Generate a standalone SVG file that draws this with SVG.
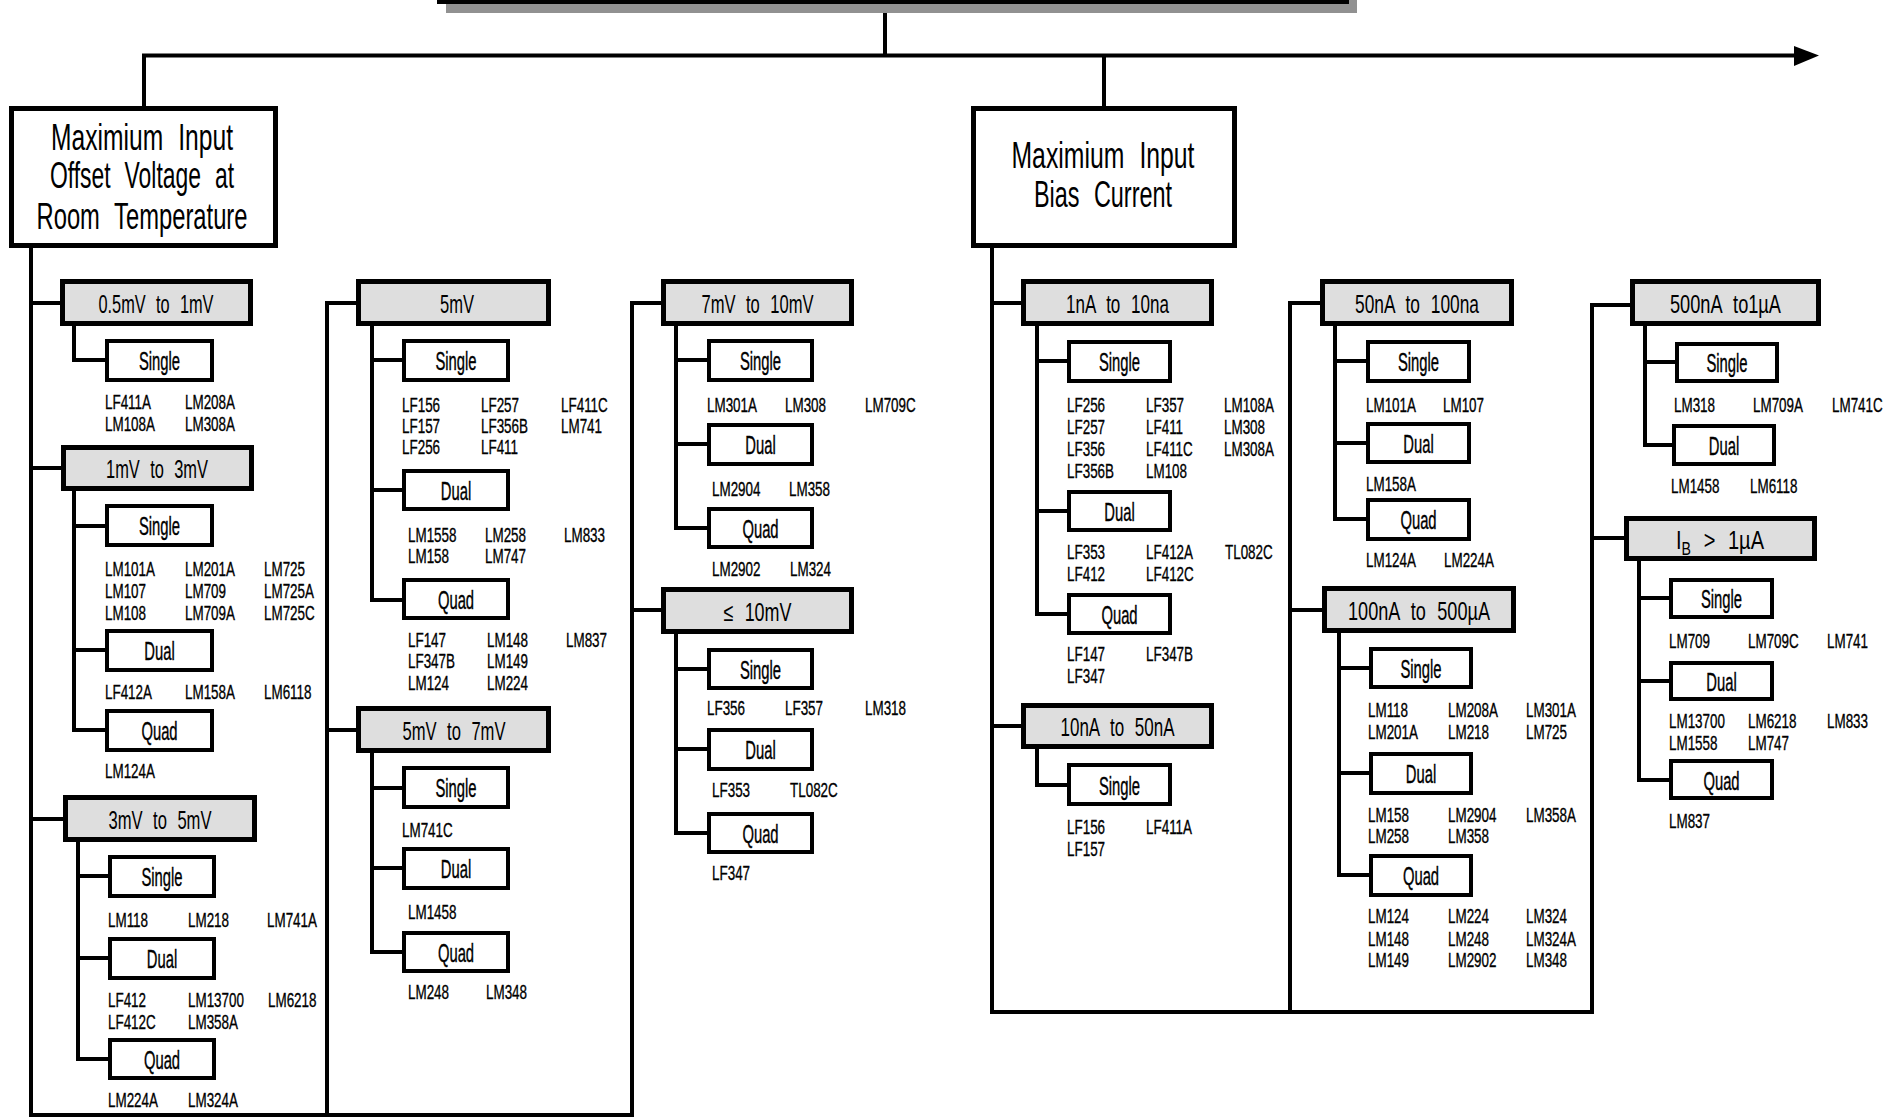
<svg xmlns="http://www.w3.org/2000/svg" width="1899" height="1118" viewBox="0 0 1899 1118">
<defs>
<style>
.ln{fill:none;stroke:#000;stroke-width:4;stroke-linecap:square;stroke-linejoin:miter}
.hb{fill:#dedede;stroke:#000;stroke-width:5}
.sb{fill:#fff;stroke:#000;stroke-width:4}
.tb{fill:#fff;stroke:#000;stroke-width:5}
text{font-family:"Liberation Sans",Arial,sans-serif;fill:#000}
.tt{font-size:36px;text-anchor:middle;word-spacing:12px}
.ht{font-size:25.5px;text-anchor:middle;word-spacing:9px}
.s{font-size:25.5px;text-anchor:middle;stroke:#000;stroke-width:0.4;transform-box:fill-box;transform-origin:center;transform:scaleX(0.58)}
.p{font-size:21px;stroke:#000;stroke-width:0.35;transform-box:fill-box;transform-origin:left center;transform:scaleX(0.64)}
</style>
</defs>
<rect width="1899" height="1118" fill="#fff"/>

<g id="connectors">
<path class="ln" d="M885 4V55.5M144 108V55.5H1796M1104 55.5V106"/>
<polygon points="1794,46 1819,55.5 1794,66" fill="#000"/>
<path class="ln" d="M31 248V1115H632M31 303H60M31 468H61M31 819H63"/>
<path class="ln" d="M356 303H327V1115M327 730H356"/>
<path class="ln" d="M661 303H632V1115M632 610H661"/>
<path class="ln" d="M74 326V360H105"/>
<path class="ln" d="M74 491V730H105M74 526H105M74 650H105"/>
<path class="ln" d="M78 842V1059H108M78 876H108M78 958H108"/>
<path class="ln" d="M372 326V600H402M372 360H402M372 490H402"/>
<path class="ln" d="M372 753V952H402M372 788H402M372 868H402"/>
<path class="ln" d="M676 326V528H707M676 360H707M676 444H707"/>
<path class="ln" d="M676 634V833H707M676 669H707M676 749H707"/>
<path class="ln" d="M992 248V1012H1592M992 303H1021M992 726H1021"/>
<path class="ln" d="M1320 303H1290V1012M1290 610H1322"/>
<path class="ln" d="M1630 305H1592V1012M1592 538H1624"/>
<path class="ln" d="M1037 326V614H1067M1037 361H1067M1037 511H1067"/>
<path class="ln" d="M1037 749V785H1067"/>
<path class="ln" d="M1335 326V519H1366M1335 361H1366M1335 443H1366"/>
<path class="ln" d="M1339 633V875H1369M1339 668H1369M1339 773H1369"/>
<path class="ln" d="M1645 326V445H1672M1645 362H1675"/>
<path class="ln" d="M1639 561V780H1669M1639 598H1669M1639 681H1669"/>
</g>

<g id="top">
<rect x="446" y="-50" width="911" height="63" fill="#919191"/>
<rect class="tb" x="439.5" y="-60" width="907" height="61.5"/>
</g>

<g id="offset">
<rect class="tb" x="11.5" y="108.5" width="264" height="137"/>
<text class="tt" x="142" y="150" textLength="182" lengthAdjust="spacingAndGlyphs">Maximium Input</text>
<text class="tt" x="142" y="188" textLength="184" lengthAdjust="spacingAndGlyphs">Offset Voltage at</text>
<text class="tt" x="142" y="229" textLength="211" lengthAdjust="spacingAndGlyphs">Room Temperature</text>
</g>

<g id="bias">
<rect class="tb" x="973.5" y="108.5" width="261" height="137"/>
<text class="tt" x="1103" y="168" textLength="183" lengthAdjust="spacingAndGlyphs">Maximium Input</text>
<text class="tt" x="1103" y="207" textLength="138" lengthAdjust="spacingAndGlyphs">Bias Current</text>
</g>

<g id="h1">
<rect class="hb" x="62.5" y="281.5" width="188" height="42"/>
<text class="ht" x="156" y="313" textLength="115" lengthAdjust="spacingAndGlyphs">0.5mV to 1mV</text>
<rect class="sb" x="107" y="341" width="105" height="39"/><text class="s" x="159.5" y="370">Single</text>
<text class="p" x="105" y="409">LF411A</text><text class="p" x="185" y="409">LM208A</text>
<text class="p" x="105" y="431">LM108A</text><text class="p" x="185" y="431">LM308A</text>
</g>

<g id="h2">
<rect class="hb" x="63.5" y="447.5" width="188" height="41"/>
<text class="ht" x="157" y="478" textLength="102" lengthAdjust="spacingAndGlyphs">1mV to 3mV</text>
<rect class="sb" x="107" y="506" width="105" height="39"/><text class="s" x="159.5" y="535">Single</text>
<text class="p" x="105" y="576">LM101A</text><text class="p" x="185" y="576">LM201A</text><text class="p" x="264" y="576">LM725</text>
<text class="p" x="105" y="598">LM107</text><text class="p" x="185" y="598">LM709</text><text class="p" x="264" y="598">LM725A</text>
<text class="p" x="105" y="620">LM108</text><text class="p" x="185" y="620">LM709A</text><text class="p" x="264" y="620">LM725C</text>
<rect class="sb" x="107" y="631" width="105" height="39"/><text class="s" x="159.5" y="660">Dual</text>
<text class="p" x="105" y="699">LF412A</text><text class="p" x="185" y="699">LM158A</text><text class="p" x="264" y="699">LM6118</text>
<rect class="sb" x="107" y="711" width="105" height="39"/><text class="s" x="159.5" y="740">Quad</text>
<text class="p" x="105" y="778">LM124A</text>
</g>

<g id="h3">
<rect class="hb" x="65.5" y="797.5" width="189" height="42"/>
<text class="ht" x="160" y="829" textLength="103" lengthAdjust="spacingAndGlyphs">3mV to 5mV</text>
<rect class="sb" x="110" y="857" width="104" height="39"/><text class="s" x="162" y="886">Single</text>
<text class="p" x="108" y="927">LM118</text><text class="p" x="188" y="927">LM218</text><text class="p" x="267" y="927">LM741A</text>
<rect class="sb" x="110" y="939" width="104" height="39"/><text class="s" x="162" y="968">Dual</text>
<text class="p" x="108" y="1007">LF412</text><text class="p" x="188" y="1007">LM13700</text><text class="p" x="268" y="1007">LM6218</text>
<text class="p" x="108" y="1029">LF412C</text><text class="p" x="188" y="1029">LM358A</text>
<rect class="sb" x="110" y="1040" width="104" height="38"/><text class="s" x="162" y="1069">Quad</text>
<text class="p" x="108" y="1107">LM224A</text><text class="p" x="188" y="1107">LM324A</text>
</g>

<g id="h4">
<rect class="hb" x="358.5" y="281.5" width="190" height="42"/>
<text class="ht" x="457" y="313" textLength="34" lengthAdjust="spacingAndGlyphs">5mV</text>
<rect class="sb" x="404" y="341" width="104" height="39"/><text class="s" x="456" y="370">Single</text>
<text class="p" x="402" y="412">LF156</text><text class="p" x="481" y="412">LF257</text><text class="p" x="561" y="412">LF411C</text>
<text class="p" x="402" y="433">LF157</text><text class="p" x="481" y="433">LF356B</text><text class="p" x="561" y="433">LM741</text>
<text class="p" x="402" y="454">LF256</text><text class="p" x="481" y="454">LF411</text>
<rect class="sb" x="404" y="471" width="104" height="38"/><text class="s" x="456" y="500">Dual</text>
<text class="p" x="408" y="542">LM1558</text><text class="p" x="485" y="542">LM258</text><text class="p" x="564" y="542">LM833</text>
<text class="p" x="408" y="563">LM158</text><text class="p" x="485" y="563">LM747</text>
<rect class="sb" x="404" y="580" width="104" height="38"/><text class="s" x="456" y="609">Quad</text>
<text class="p" x="408" y="647">LF147</text><text class="p" x="487" y="647">LM148</text><text class="p" x="566" y="647">LM837</text>
<text class="p" x="408" y="668">LF347B</text><text class="p" x="487" y="668">LM149</text>
<text class="p" x="408" y="690">LM124</text><text class="p" x="487" y="690">LM224</text>
</g>

<g id="h5">
<rect class="hb" x="358.5" y="708.5" width="190" height="42"/>
<text class="ht" x="454" y="740" textLength="103" lengthAdjust="spacingAndGlyphs">5mV to 7mV</text>
<rect class="sb" x="404" y="768" width="104" height="39"/><text class="s" x="456" y="797">Single</text>
<text class="p" x="402" y="837">LM741C</text>
<rect class="sb" x="404" y="849" width="104" height="39"/><text class="s" x="456" y="878">Dual</text>
<text class="p" x="408" y="919">LM1458</text>
<rect class="sb" x="404" y="933" width="104" height="38"/><text class="s" x="456" y="962">Quad</text>
<text class="p" x="408" y="999">LM248</text><text class="p" x="486" y="999">LM348</text>
</g>

<g id="h6">
<rect class="hb" x="663.5" y="281.5" width="188" height="42"/>
<text class="ht" x="757.5" y="313" textLength="112" lengthAdjust="spacingAndGlyphs">7mV to 10mV</text>
<rect class="sb" x="709" y="341" width="103" height="39"/><text class="s" x="760.5" y="370">Single</text>
<text class="p" x="707" y="412">LM301A</text><text class="p" x="785" y="412">LM308</text><text class="p" x="865" y="412">LM709C</text>
<rect class="sb" x="709" y="425" width="103" height="39"/><text class="s" x="760.5" y="454">Dual</text>
<text class="p" x="712" y="496">LM2904</text><text class="p" x="789" y="496">LM358</text>
<rect class="sb" x="709" y="509" width="103" height="38"/><text class="s" x="760.5" y="538">Quad</text>
<text class="p" x="712" y="576">LM2902</text><text class="p" x="790" y="576">LM324</text>
</g>

<g id="h7">
<rect class="hb" x="663.5" y="589.5" width="188" height="42"/>
<text class="ht" x="757.5" y="621" textLength="68" lengthAdjust="spacingAndGlyphs">≤ 10mV</text>
<rect class="sb" x="709" y="650" width="103" height="38"/><text class="s" x="760.5" y="679">Single</text>
<text class="p" x="707" y="715">LF356</text><text class="p" x="785" y="715">LF357</text><text class="p" x="865" y="715">LM318</text>
<rect class="sb" x="709" y="730" width="103" height="39"/><text class="s" x="760.5" y="759">Dual</text>
<text class="p" x="712" y="797">LF353</text><text class="p" x="790" y="797">TL082C</text>
<rect class="sb" x="709" y="814" width="103" height="38"/><text class="s" x="760.5" y="843">Quad</text>
<text class="p" x="712" y="880">LF347</text>
</g>

<g id="r1">
<rect class="hb" x="1023.5" y="281.5" width="188" height="42"/>
<text class="ht" x="1117.5" y="313" textLength="103" lengthAdjust="spacingAndGlyphs">1nA to 10na</text>
<rect class="sb" x="1069" y="342" width="101" height="39"/><text class="s" x="1119.5" y="371">Single</text>
<text class="p" x="1067" y="412">LF256</text><text class="p" x="1146" y="412">LF357</text><text class="p" x="1224" y="412">LM108A</text>
<text class="p" x="1067" y="434">LF257</text><text class="p" x="1146" y="434">LF411</text><text class="p" x="1224" y="434">LM308</text>
<text class="p" x="1067" y="456">LF356</text><text class="p" x="1146" y="456">LF411C</text><text class="p" x="1224" y="456">LM308A</text>
<text class="p" x="1067" y="478">LF356B</text><text class="p" x="1146" y="478">LM108</text>
<rect class="sb" x="1069" y="492" width="101" height="38"/><text class="s" x="1119.5" y="521">Dual</text>
<text class="p" x="1067" y="559">LF353</text><text class="p" x="1146" y="559">LF412A</text><text class="p" x="1225" y="559">TL082C</text>
<text class="p" x="1067" y="581">LF412</text><text class="p" x="1146" y="581">LF412C</text>
<rect class="sb" x="1069" y="595" width="101" height="38"/><text class="s" x="1119.5" y="624">Quad</text>
<text class="p" x="1067" y="661">LF147</text><text class="p" x="1146" y="661">LF347B</text>
<text class="p" x="1067" y="683">LF347</text>
</g>

<g id="r2">
<rect class="hb" x="1023.5" y="705.5" width="188" height="41"/>
<text class="ht" x="1117.5" y="736" textLength="114" lengthAdjust="spacingAndGlyphs">10nA to 50nA</text>
<rect class="sb" x="1069" y="765" width="101" height="39"/><text class="s" x="1119.5" y="795">Single</text>
<text class="p" x="1067" y="834">LF156</text><text class="p" x="1146" y="834">LF411A</text>
<text class="p" x="1067" y="856">LF157</text>
</g>

<g id="r3">
<rect class="hb" x="1322.5" y="281.5" width="189" height="42"/>
<text class="ht" x="1417" y="313" textLength="124" lengthAdjust="spacingAndGlyphs">50nA to 100na</text>
<rect class="sb" x="1368" y="342" width="101" height="39"/><text class="s" x="1418.5" y="371">Single</text>
<text class="p" x="1366" y="412">LM101A</text><text class="p" x="1443" y="412">LM107</text>
<rect class="sb" x="1368" y="424" width="101" height="38"/><text class="s" x="1418.5" y="453">Dual</text>
<text class="p" x="1366" y="491">LM158A</text>
<rect class="sb" x="1368" y="500" width="101" height="39"/><text class="s" x="1418.5" y="529">Quad</text>
<text class="p" x="1366" y="567">LM124A</text><text class="p" x="1444" y="567">LM224A</text>
</g>

<g id="r4">
<rect class="hb" x="1324.5" y="588.5" width="189" height="42"/>
<text class="ht" x="1419" y="620" textLength="142" lengthAdjust="spacingAndGlyphs">100nA to 500µA</text>
<rect class="sb" x="1371" y="649" width="100" height="38"/><text class="s" x="1421" y="678">Single</text>
<text class="p" x="1368" y="717">LM118</text><text class="p" x="1448" y="717">LM208A</text><text class="p" x="1526" y="717">LM301A</text>
<text class="p" x="1368" y="739">LM201A</text><text class="p" x="1448" y="739">LM218</text><text class="p" x="1526" y="739">LM725</text>
<rect class="sb" x="1371" y="754" width="100" height="39"/><text class="s" x="1421" y="783">Dual</text>
<text class="p" x="1368" y="822">LM158</text><text class="p" x="1448" y="822">LM2904</text><text class="p" x="1526" y="822">LM358A</text>
<text class="p" x="1368" y="843">LM258</text><text class="p" x="1448" y="843">LM358</text>
<rect class="sb" x="1371" y="856" width="100" height="39"/><text class="s" x="1421" y="885">Quad</text>
<text class="p" x="1368" y="923">LM124</text><text class="p" x="1448" y="923">LM224</text><text class="p" x="1526" y="923">LM324</text>
<text class="p" x="1368" y="946">LM148</text><text class="p" x="1448" y="946">LM248</text><text class="p" x="1526" y="946">LM324A</text>
<text class="p" x="1368" y="967">LM149</text><text class="p" x="1448" y="967">LM2902</text><text class="p" x="1526" y="967">LM348</text>
</g>

<g id="r5">
<rect class="hb" x="1632.5" y="281.5" width="186" height="42"/>
<text class="ht" x="1725.5" y="313" textLength="111" lengthAdjust="spacingAndGlyphs">500nA to1µA</text>
<rect class="sb" x="1677" y="344" width="100" height="37"/><text class="s" x="1727" y="372">Single</text>
<text class="p" x="1674" y="412">LM318</text><text class="p" x="1753" y="412">LM709A</text><text class="p" x="1832" y="412">LM741C</text>
<rect class="sb" x="1674" y="426" width="100" height="38"/><text class="s" x="1724" y="455">Dual</text>
<text class="p" x="1671" y="493">LM1458</text><text class="p" x="1750" y="493">LM6118</text>
</g>

<g id="r6">
<rect class="hb" x="1626.5" y="518.5" width="188" height="40"/>
<text class="ht" x="1720" y="549" textLength="88" lengthAdjust="spacingAndGlyphs">I<tspan font-size="18" dy="6">B</tspan><tspan dy="-6"> &gt; 1µA</tspan></text>
<rect class="sb" x="1671" y="580" width="101" height="37"/><text class="s" x="1721.5" y="608">Single</text>
<text class="p" x="1669" y="648">LM709</text><text class="p" x="1748" y="648">LM709C</text><text class="p" x="1827" y="648">LM741</text>
<rect class="sb" x="1671" y="663" width="101" height="36"/><text class="s" x="1721.5" y="691">Dual</text>
<text class="p" x="1669" y="728">LM13700</text><text class="p" x="1748" y="728">LM6218</text><text class="p" x="1827" y="728">LM833</text>
<text class="p" x="1669" y="750">LM1558</text><text class="p" x="1748" y="750">LM747</text>
<rect class="sb" x="1671" y="761" width="101" height="37"/><text class="s" x="1721.5" y="790">Quad</text>
<text class="p" x="1669" y="828">LM837</text>
</g>
</svg>
